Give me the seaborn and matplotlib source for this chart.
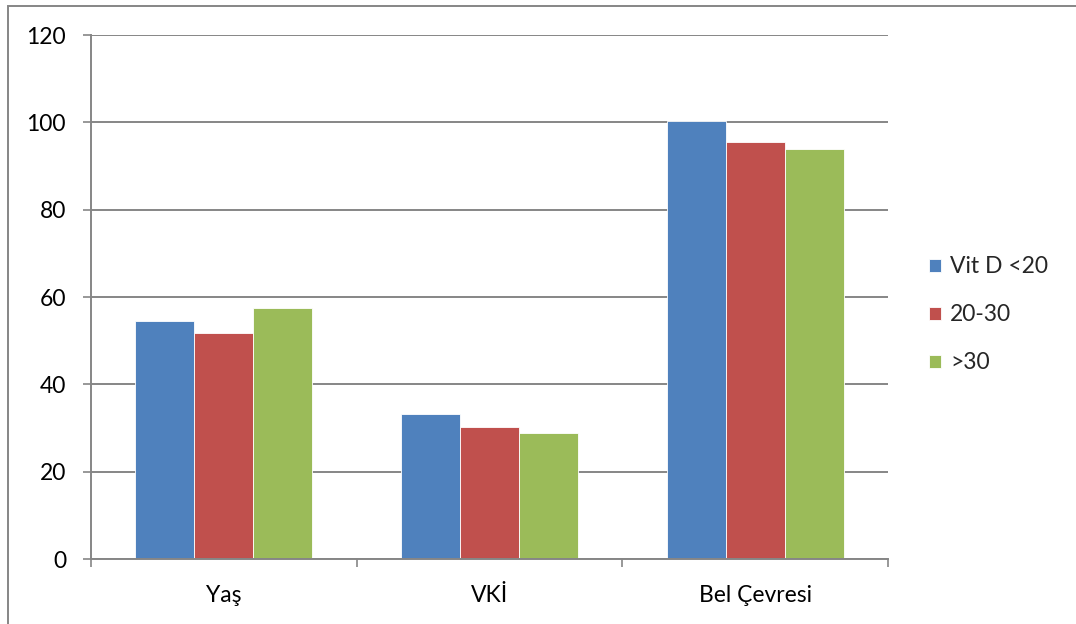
import matplotlib
matplotlib.use("Agg")
import matplotlib.pyplot as plt
from matplotlib.patches import Rectangle
import seaborn as sns
import pandas as pd

categories = ["Yaş", "VKİ", "Bel Çevresi"]
series_names = ["Vit D <20", "20-30", ">30"]
vit_d_lt20 = [54.4, 33.1, 100.4]
vit_d_20_30 = [51.7, 30.3, 95.6]
vit_d_gt30 = [57.5, 28.9, 93.9]
colors = ["#4F81BD", "#C0504D", "#9BBB59"]

rows = []
for name, vals in zip(series_names, [vit_d_lt20, vit_d_20_30, vit_d_gt30]):
    for cat, v in zip(categories, vals):
        rows.append({"category": cat, "group": name, "value": v})
df = pd.DataFrame(rows)

sns.set_theme(style="white")
plt.rcParams["font.family"] = ["Lato", "DejaVu Sans"]

fs = 16.5
fig = plt.figure(figsize=(10.76, 6.24), dpi=100)
ax = fig.add_axes([91 / 1076, 1 - 559 / 624, (888 - 91) / 1076, (559 - 35) / 624])

sns.barplot(data=df, x="category", y="value", hue="group", order=categories,
            hue_order=series_names, palette=colors, width=0.667, ax=ax,
            edgecolor="white", linewidth=0.6, saturation=1, legend=True)

grid_color = "#868686"
ax.set_ylim(0, 120)
ax.set_yticks(range(0, 121, 20))
ax.set_xlim(-0.5, 2.5)
ax.yaxis.grid(True, color=grid_color, linewidth=1.4)
ax.set_axisbelow(True)
ax.set_xlabel("")
ax.set_ylabel("")

for side in ["top", "right"]:
    ax.spines[side].set_visible(False)
for side in ["left", "bottom"]:
    ax.spines[side].set_color(grid_color)
    ax.spines[side].set_linewidth(1.4)

# category boundary ticks on x, value ticks on y
ax.set_xticks([-0.5, 0.5, 1.5, 2.5], minor=False)
ax.set_xticklabels([])
ax.set_xticks([0, 1, 2], minor=True)
ax.set_xticklabels(categories, minor=True)
ax.tick_params(axis="x", which="major", length=6, width=1.2, color=grid_color,
               direction="out", bottom=True)
ax.tick_params(axis="x", which="minor", length=0, pad=19, labelsize=fs,
               labelcolor="black")
ax.tick_params(axis="y", length=6, width=1.2, color=grid_color, direction="out",
               left=True, pad=12, labelsize=fs, labelcolor="black")

leg = ax.legend(loc="center left", bbox_to_anchor=(1.052, 0.466), frameon=False,
                fontsize=fs, handlelength=0.5, handleheight=0.5,
                handletextpad=0.4, labelspacing=1.18, borderpad=0,
                borderaxespad=0)

# outer chart frame (left and top edges fall inside the canvas)
fig.patches.append(Rectangle((8 / 1076, -0.1), 1.2, 1 - 6 / 624 + 0.1,
                             transform=fig.transFigure, fill=False,
                             edgecolor="#868686", linewidth=1.4))

fig.savefig("out.png", dpi=100)
